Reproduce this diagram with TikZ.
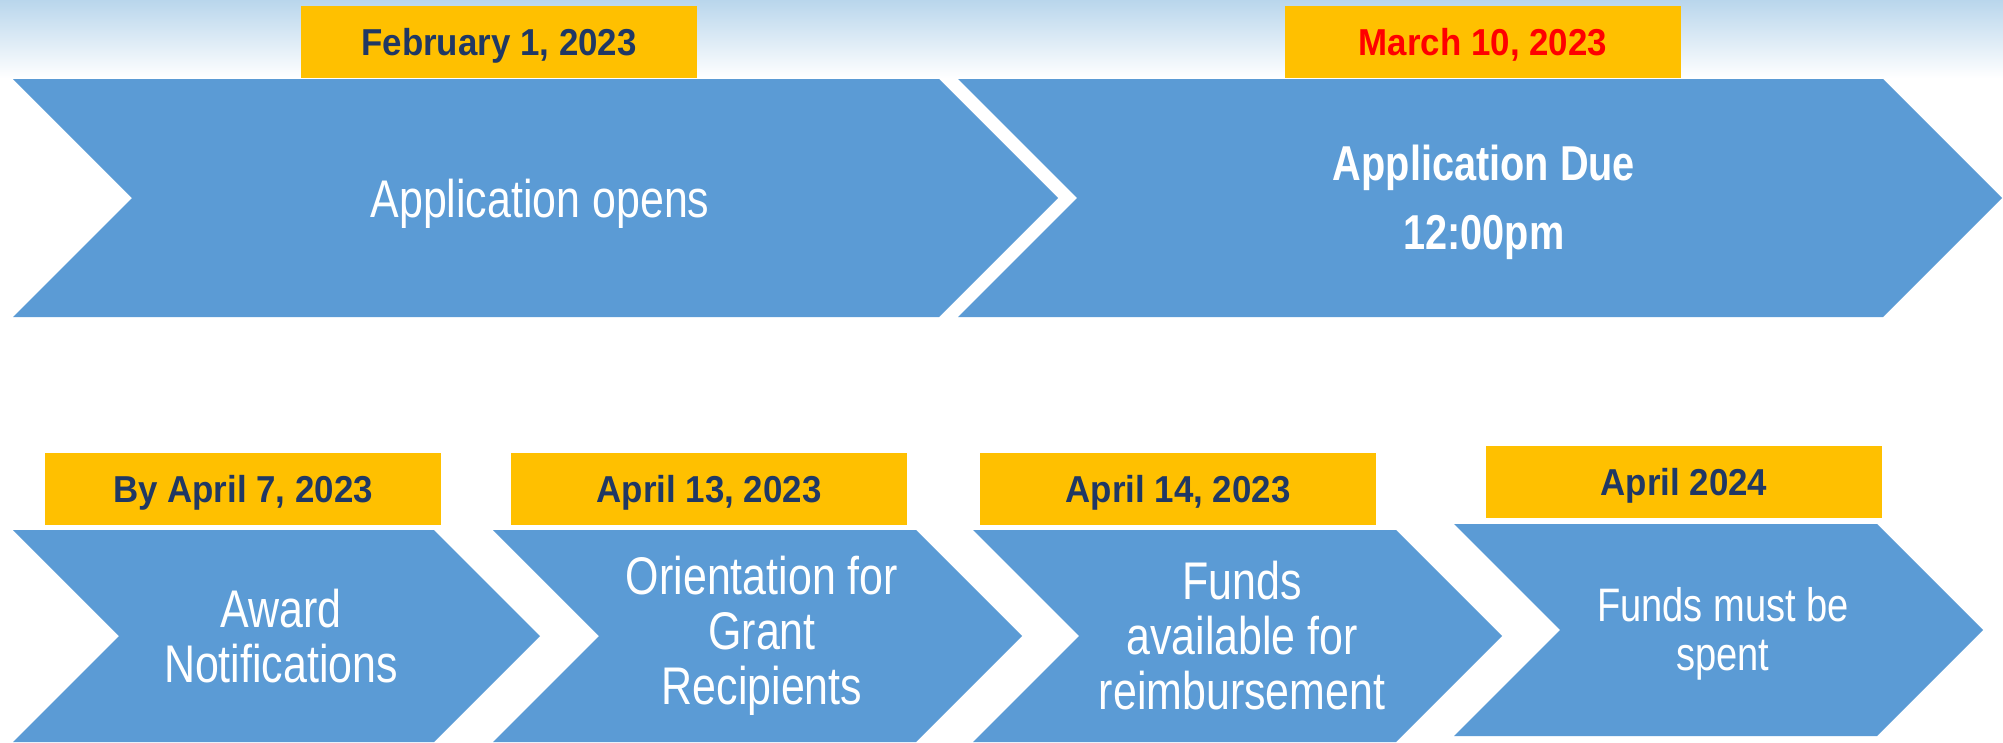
\documentclass[tikz,border=0pt]{standalone}
\usepackage{fontspec}
\setmainfont{Liberation Sans}[FakeStretch=0.81]
\newfontfamily\datefont{Liberation Sans}[FakeStretch=0.93]
\usetikzlibrary{positioning}
\definecolor{chevblue}{HTML}{5B9BD5}
\definecolor{gold}{HTML}{FFC000}
\definecolor{navy}{HTML}{203864}
\definecolor{skytop}{HTML}{B9D6EC}
\tikzset{
  chev/.style={fill=chevblue},
  datebox/.style={fill=gold, minimum width=396pt, minimum height=72pt,
    inner sep=0pt, text height=27pt, text depth=0pt, text=navy,
    font=\datefont\fontsize{37.5}{42}\selectfont\bfseries},
  chevtext/.style={text=white, align=center, inner sep=0pt,
    font=\fontsize{53}{55}\selectfont},
}
% left x, middle y, width, half height
\newcommand{\chevron}[4]{%
  \fill[chev] (#1,{#2-#4}) -- ({#1+#3-#4},{#2-#4}) -- ({#1+#3},#2)
    -- ({#1+#3-#4},{#2+#4}) -- (#1,{#2+#4}) -- ({#1+#4},#2) -- cycle;}

\begin{document}
\begin{tikzpicture}[x=1pt, y=-1pt]
  \useasboundingbox (0,0) rectangle (2003,742);
  \shade[top color=skytop, bottom color=white] (0,0) rectangle (2003,78);

  % top row
  \chevron{13}{198}{1045}{119}
  \chevron{958}{198}{1044}{119}
  \node[datebox]           (feb)  at (499,42)  {February 1, 2023};
  \node[datebox, text=red] (mar)  at (1483,42) {March 10, 2023};
  \node[chevtext, text depth=0pt] (open) at (540,198) {Application opens};
  \node[chevtext, font=\fontsize{49}{69}\selectfont\bfseries]
                           (due)  at (1484,202) {Application Due\\12:00pm};

  % bottom row
  \chevron{13}{636}{527}{106}
  \chevron{493}{636}{529}{106}
  \chevron{973}{636}{529}{106}
  \chevron{1454}{630}{529}{106}
  \node[datebox] (awarddate)  at (243,489)    {By April 7, 2023};
  \node[datebox] (orientdate) at (709,489)    {April 13, 2023};
  \node[datebox] (fundsdate)  at (1178,489)   {April 14, 2023};
  \node[datebox] (spentdate)  at (1684,481.5) {April 2024};
  \node[chevtext] (award)  at (281,636)  {Award\\Notifications};
  \node[chevtext] (orient) at (762,636)  {Orientation for\\Grant\\Recipients};
  \node[chevtext] (funds)  at (1242,636) {Funds\\available for\\reimbursement};
  \node[chevtext, font=\fontsize{47}{49}\selectfont]
                  (spent)  at (1723,634) {Funds must be\\spent};
\end{tikzpicture}
\end{document}
